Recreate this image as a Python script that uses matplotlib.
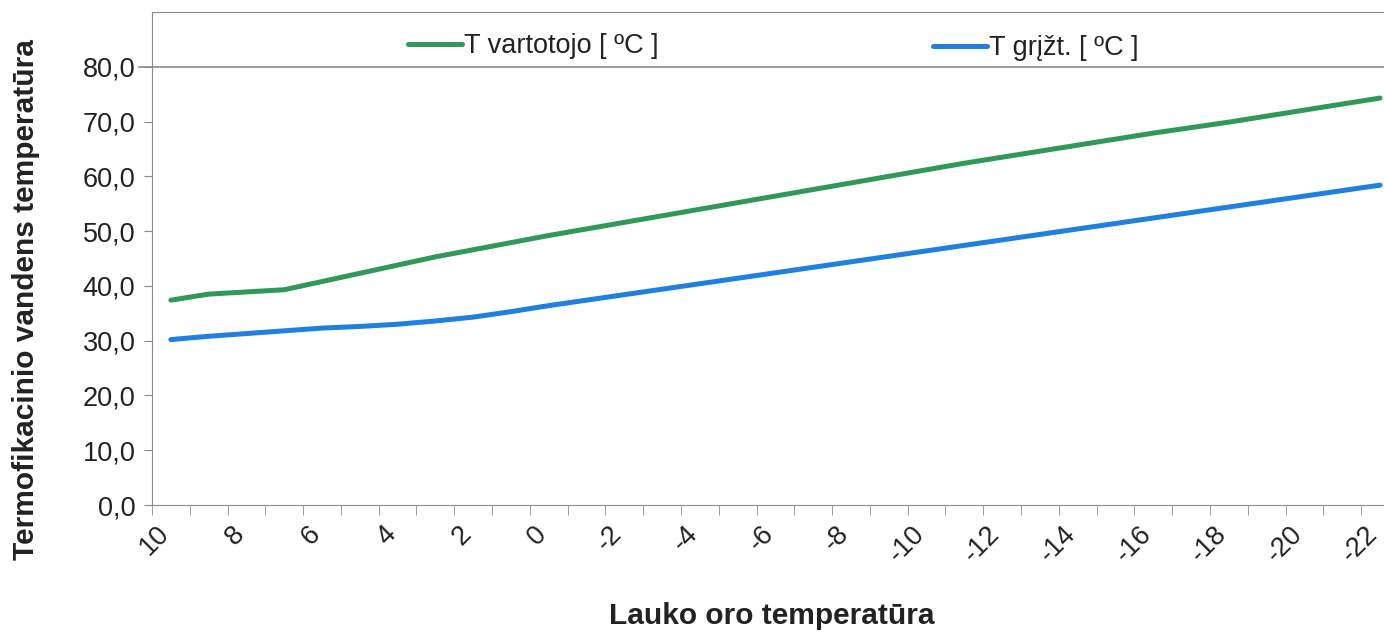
import matplotlib
matplotlib.use("Agg")
import matplotlib.pyplot as plt
import matplotlib.transforms as mtransforms
from matplotlib.ticker import FixedLocator, FuncFormatter

plt.rcParams['font.family'] = ['Liberation Sans', 'DejaVu Sans']

# lauko oro temperatura (kategorijos)
outdoor = list(range(10, -23, -1))
t_vartotojo = [37.4, 38.5, 38.9, 39.3, 40.8, 42.3, 43.8, 45.3, 46.6, 47.9, 49.2,
               50.4, 51.6, 52.8, 54.0, 55.2, 56.4, 57.6, 58.8, 60.0, 61.2,
               62.4, 63.5, 64.6, 65.7, 66.8, 67.9, 68.9, 69.9, 71.0, 72.1, 73.2, 74.3]
t_grizt = [30.2, 30.8, 31.3, 31.8, 32.3, 32.6, 33.0, 33.6, 34.3, 35.3, 36.4,
           37.4, 38.4, 39.4, 40.4, 41.4, 42.4, 43.4, 44.4, 45.4, 46.4,
           47.4, 48.4, 49.4, 50.4, 51.4, 52.4, 53.4, 54.4, 55.4, 56.4, 57.4, 58.4]
labels = [str(t) for t in outdoor]

green = '#30995a'
blue = '#1f80e0'
grey = '#8a8a8a'
txt = '#222222'

fig = plt.figure(figsize=(13.84, 6.33), dpi=100)
ax = fig.add_axes([0.1098, 0.2022, 0.901, 0.7788])

x = list(range(len(outdoor)))
l1, = ax.plot(x, t_vartotojo, color=green, lw=3.6, solid_capstyle='round',
              label='T vartotojo [ ºC ]')
l2, = ax.plot(x, t_grizt, color=blue, lw=3.6, solid_capstyle='round',
              label='T grįžt. [ ºC ]')

ax.set_xlim(-0.5, len(outdoor) - 0.5)
ax.set_ylim(0, 90)

# y asis
ax.yaxis.set_major_locator(FixedLocator(range(0, 81, 10)))
ax.yaxis.set_major_formatter(FuncFormatter(lambda v, p: f"{v:.1f}".replace('.', ',')))
ax.tick_params(axis='y', length=6, color=grey, labelsize=19.5, labelcolor=txt, pad=6)

# x asis: bruksniai tarp kategoriju, uzrasai kas antra
ax.set_xticks([i for i in x if i % 2 == 0])
ax.set_xticklabels([labels[i] for i in x if i % 2 == 0], rotation=45,
                   ha='right', va='center', rotation_mode='anchor')
ax.set_xticks([i - 0.5 for i in range(len(outdoor) + 1)], minor=True)
ax.tick_params(axis='x', which='major', length=0, labelsize=19.5, labelcolor=txt, pad=18)
ax.tick_params(axis='x', which='minor', length=7, color=grey)
shift = mtransforms.ScaledTranslation(-6 / 100, 0, fig.dpi_scale_trans)
for lab in ax.get_xticklabels():
    lab.set_transform(lab.get_transform() + shift)

for s in ['left', 'bottom', 'top']:
    ax.spines[s].set_color(grey)
ax.spines['right'].set_visible(False)

# legendos juostos apacia
ax.axhline(80, color=grey, lw=1.2, clip_on=False, xmin=-0.01)

ax.set_ylabel('Termofikacinio vandens temperatūra', fontsize=21.5, fontweight='bold',
              color=txt)
ax.yaxis.set_label_coords(-0.09, 0.416)
ax.set_xlabel('Lauko oro temperatūra', fontsize=21.5, fontweight='bold', color=txt)
ax.xaxis.set_label_coords(0.497, -0.197)

leg1 = ax.legend(handles=[l1], loc='center left', bbox_to_anchor=(0.205, 0.931),
                 frameon=False, fontsize=19.5, handlelength=2.0, handletextpad=0.1,
                 borderaxespad=0, borderpad=0, labelcolor=txt)
ax.add_artist(leg1)
ax.legend(handles=[l2], loc='center left', bbox_to_anchor=(0.626, 0.927),
          frameon=False, fontsize=19.5, handlelength=2.0, handletextpad=0.1,
          borderaxespad=0, borderpad=0, labelcolor=txt)

fig.savefig('out.png', dpi=100, facecolor='white')
